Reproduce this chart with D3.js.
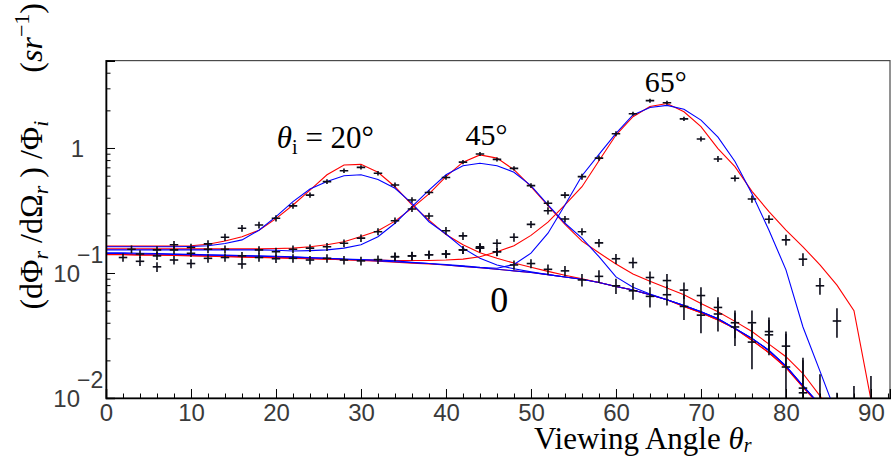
<!DOCTYPE html>
<html><head><meta charset="utf-8">
<script src="https://cdn.jsdelivr.net/npm/d3@7/dist/d3.min.js"></script>
<style>html,body{margin:0;padding:0;background:#fff;}svg{display:block;}</style>
</head><body>
<svg id="chart" width="891" height="456"></svg>
<script>
// ---------------- data ----------------
const curveAngles = [0,2,4,6,8,10,12,14,16,18,20,22,24,26,28,30,32,34,36,38,40,42,44,46,48,50,52,54,56,58,60,62,64,66,68,70,72,74,76,78,80,82,84,86,88,90];

const red0  = [0.141,0.141,0.140,0.140,0.139,0.138,0.137,0.136,0.135,0.134, 0.133,0.132,0.131,0.129,0.128,0.126,0.124,0.122,0.120,0.118, 0.116,0.113,0.110,0.107,0.104,0.101,0.097,0.093,0.089,0.084, 0.078,0.073,0.067,0.061,0.054,0.048,0.042,0.036,0.029,0.023, 0.0175,0.0122,0.0087,0.006,0.004,0.0025];
const blue0 = [0.145,0.145,0.144,0.143,0.142,0.141,0.140,0.139,0.138,0.137, 0.136,0.135,0.133,0.131,0.129,0.127,0.125,0.123,0.121,0.119, 0.116,0.113,0.110,0.107,0.104,0.101,0.097,0.093,0.089,0.084, 0.078,0.073,0.067,0.061,0.055,0.049,0.043,0.036,0.030,0.024, 0.018,0.0125,0.0088,0.006,0.004,0.0025];
const red20 = [0.164,0.164,0.164,0.164,0.164,0.165,0.170,0.180,0.195,0.220, 0.272,0.350,0.460,0.610,0.730,0.740,0.640,0.490,0.350,0.265, 0.203,0.168,0.145,0.131,0.120,0.111,0.103,0.096,0.090,0.084, 0.078,0.073,0.067,0.061,0.054,0.048,0.042,0.036,0.029,0.023, 0.0175,0.0122,0.0087,0.006,0.004,0.0025];
const blue20= [0.162,0.162,0.162,0.162,0.162,0.163,0.165,0.172,0.184,0.220, 0.282,0.372,0.470,0.540,0.600,0.610,0.560,0.476,0.360,0.257, 0.205,0.158,0.131,0.116,0.108,0.102,0.097,0.093,0.089,0.084, 0.078,0.073,0.067,0.061,0.055,0.049,0.043,0.036,0.030,0.024, 0.018,0.0125,0.0088,0.006,0.004,0.0025];
const red45 = [0.156,0.156,0.156,0.156,0.156,0.156,0.156,0.156,0.156,0.156, 0.157,0.158,0.162,0.168,0.178,0.196,0.218,0.260,0.330,0.430, 0.590,0.770,0.880,0.830,0.670,0.490,0.345,0.245,0.180,0.145, 0.118,0.098,0.086,0.076,0.067,0.057,0.049,0.041,0.034,0.027, 0.0214,0.0157,0.0104,0.0067,0.004,0.0025];
const blue45= [0.153,0.153,0.153,0.153,0.153,0.153,0.153,0.153,0.153,0.153, 0.152,0.150,0.151,0.153,0.158,0.168,0.195,0.250,0.340,0.460, 0.610,0.720,0.755,0.720,0.640,0.500,0.350,0.250,0.190,0.135, 0.093,0.077,0.068,0.061,0.055,0.049,0.043,0.036,0.030,0.024, 0.018,0.0125,0.0088,0.006,0.004,0.0025];
const red65 = [0.140,0.140,0.139,0.139,0.138,0.137,0.136,0.135,0.134,0.133, 0.132,0.131,0.130,0.129,0.128,0.127,0.127,0.126,0.126,0.126, 0.127,0.129,0.135,0.148,0.165,0.200,0.255,0.350,0.490,0.790, 1.270,1.780,2.150,2.270,1.950,1.480,0.990,0.710,0.450,0.310, 0.220,0.162,0.116,0.080,0.050,0.0097];
const blue65= [0.143,0.143,0.142,0.142,0.141,0.140,0.139,0.138,0.137,0.136, 0.135,0.134,0.132,0.131,0.129,0.128,0.127,0.125,0.122,0.119, 0.117,0.114,0.111,0.109,0.117,0.144,0.208,0.350,0.600,0.890, 1.310,1.840,2.110,2.190,2.040,1.670,1.220,0.780,0.430,0.220, 0.106,0.037,0.0164,0.0072,0.003,0.0015];

// measured points (theta_r, flux, vertical error)
const angles0 = [2,4,6,8,10,12,14,16,18,20,22,24,26,28,30,32,34,36,38,40,42,44,46,48,50,52,54,56,58,60,62,64,66,68,70,72,74,76,78,80,82,84,86];
const flux0   = [0.133,0.124,0.112,0.127,0.119,0.131,0.133,0.118,0.133,0.130,0.131,0.127,0.131,0.127,0.125,0.128,0.135,0.137,0.140,0.142,0.153,0.158,0.148,0.116,0.119,0.107,0.104,0.088,0.094,0.079,0.072,0.065,0.067,0.054,0.046,0.047,0.037,0.028,0.032,0.0177,0.011,0.006,0.005];
const err0    = [0.010,0.010,0.010,0.010,0.010,0.010,0.010,0.010,0.010,0.010,0.010,0.010,0.010,0.010,0.010,0.010,0.010,0.010,0.010,0.010,0.011,0.011,0.011,0.010,0.010,0.010,0.010,0.010,0.011,0.011,0.011,0.012,0.012,0.012,0.013,0.013,0.011,0.011,0.010,0.015,0.009,0.0095,0.006];

const angles20 = [3,6,8,10,12,14,16,18,20,22,24,26,28,30,32,34,36,38,40,42,44,46];
const flux20   = [0.155,0.153,0.168,0.160,0.171,0.193,0.228,0.242,0.274,0.344,0.420,0.538,0.658,0.700,0.627,0.506,0.384,0.286,0.218,0.198,0.162,0.148];
const err20    = [0.011,0.011,0.012,0.011,0.012,0.013,0.014,0.015,0.016,0.018,0.020,0.024,0.026,0.028,0.026,0.024,0.020,0.017,0.015,0.014,0.012,0.012];

const angles45 = [4,6,8,10,12,14,16,18,20,22,24,26,28,30,32,34,36,38,40,42,44,46,48,50,52,54,56,58,60,62,64,66,68,70,72,74,76,78,80,82];
const flux45   = [0.142,0.137,0.153,0.144,0.155,0.155,0.137,0.153,0.148,0.155,0.158,0.162,0.173,0.190,0.214,0.262,0.325,0.440,0.580,0.770,0.895,0.810,0.687,0.500,0.361,0.270,0.214,0.174,0.130,0.121,0.092,0.087,0.073,0.066,0.053,0.040,0.040,0.034,0.026,0.012];
const err45    = [0.010,0.010,0.011,0.010,0.011,0.011,0.010,0.011,0.011,0.011,0.011,0.012,0.012,0.013,0.014,0.016,0.018,0.020,0.024,0.030,0.033,0.030,0.028,0.022,0.019,0.016,0.014,0.013,0.012,0.012,0.011,0.011,0.011,0.011,0.011,0.010,0.010,0.010,0.008,0.009];

const angles65 = [34,36,38,40,42,44,46,48,50,52,54,56,58,60,62,64,66,68,70,72,74,76,78,80,82,84,86,88,90];
const flux65   = [0.135,0.137,0.140,0.142,0.153,0.158,0.173,0.193,0.245,0.315,0.420,0.590,0.830,1.300,1.880,2.390,2.300,1.710,1.180,0.817,0.572,0.391,0.269,0.184,0.129,0.079,0.0413,0.005,0.006];
const err65    = [0.011,0.011,0.011,0.011,0.011,0.012,0.013,0.015,0.016,0.021,0.024,0.033,0.040,0.060,0.070,0.090,0.085,0.065,0.055,0.045,0.032,0.026,0.020,0.018,0.015,0.012,0.011,0.0075,0.009];

const xMajorTicks = [0,10,20,30,40,50,60,70,80,90];
const xMinorTicks = [2,4,6,8,12,14,16,18,22,24,26,28,32,34,36,38,42,44,46,48,52,54,56,58,62,64,66,68,72,74,76,78,82,84,86,88,92];
const yMajorTicks = [0.01,0.1,1];
const yMinorTicks = [0.02,0.03,0.04,0.05,0.06,0.07,0.08,0.09,0.2,0.3,0.4,0.5,0.6,0.7,0.8,0.9,2,3,4,5];
const yTickLabels = [{v:0.01, base:"10", exp:"\u22122"},{v:0.1, base:"10", exp:"\u22121"},{v:1, base:"1", exp:""}];

const curveLabels = [
  {text:"45\u00B0", theta:42.3, flux:1.06, size:30},
  {text:"65\u00B0", theta:63.4, flux:2.78, size:30},
  {text:"0", theta:45.2, flux:0.0485, size:36}
];

// ---------------- drawing ----------------
const svg = d3.select("#chart");
const L = 106, R = 890, T = 60.6, B = 398;
const x = d3.scaleLinear().domain([0, 92.24]).range([L, R]);
const y = d3.scaleLog().domain([0.01, 5]).range([B, T]);

svg.append("rect").attr("width",891).attr("height",456).attr("fill","#fff");

const defs = svg.append("defs");
defs.append("clipPath").attr("id","clip").append("rect")
  .attr("x",L).attr("y",T).attr("width",R-L).attr("height",B-T);

// frame
svg.append("rect").attr("x",L).attr("y",T).attr("width",R-L).attr("height",B-T)
  .attr("fill","none").attr("stroke","#4a4a4a").attr("stroke-width",1.2);

const plot = svg.append("g").attr("clip-path","url(#clip)");

// curves
const line = d3.line().x(d=>x(d[0])).y(d=>y(d[1]));
const curves = [
  [red0,"#ff0000"],[blue0,"#0000ff"],
  [red20,"#ff0000"],[blue20,"#0000ff"],
  [red45,"#ff0000"],[blue45,"#0000ff"],
  [red65,"#ff0000"],[blue65,"#0000ff"]
];
curves.forEach(([vals,col])=>{
  plot.append("path").datum(curveAngles.map((a,i)=>[a,vals[i]]))
    .attr("d",line).attr("fill","none").attr("stroke",col).attr("stroke-width",1.1);
});

// data points (crosses with error bars)
const sets = [[angles0,flux0,err0],[angles20,flux20,err20],[angles45,flux45,err45],[angles65,flux65,err65]];
const xErr = 0.5;
sets.forEach(([a,f,e])=>{
  const pts = a.map((t,i)=>({t, v:f[i], e:e[i]}));
  const g = plot.append("g").attr("stroke","#0d0d1a").attr("stroke-width",1.6);
  g.selectAll("line.h").data(pts).join("line").attr("class","h")
    .attr("x1",d=>x(d.t-xErr)).attr("x2",d=>x(d.t+xErr))
    .attr("y1",d=>y(d.v)).attr("y2",d=>y(d.v));
  g.selectAll("line.v").data(pts).join("line").attr("class","v")
    .attr("x1",d=>x(d.t)).attr("x2",d=>x(d.t))
    .attr("y1",d=>y(d.v+d.e)).attr("y2",d=>y(Math.max(d.v-d.e,1e-4)));
});

// axes
const axisFont = "'Liberation Sans', Arial, sans-serif";
const gx = svg.append("g").attr("transform",`translate(0,${B})`)
  .call(d3.axisBottom(x).tickValues(xMajorTicks).tickSize(-9).tickPadding(6).tickFormat(d3.format("d")));
svg.append("g").attr("transform",`translate(0,${B})`)
  .call(d3.axisBottom(x).tickValues(xMinorTicks).tickSize(-4.5).tickFormat(""))
  .call(g=>g.select(".domain").remove());
gx.selectAll("text").attr("font-family",axisFont).attr("font-size",24).attr("fill","#3a3a3a");
gx.select(".domain").attr("stroke","#000").attr("stroke-width",1.6);

const gy = svg.append("g").attr("transform",`translate(${L},0)`)
  .call(d3.axisLeft(y).tickValues(yMajorTicks).tickSize(-9).tickFormat(""));
svg.append("g").attr("transform",`translate(${L},0)`)
  .call(d3.axisLeft(y).tickValues(yMinorTicks).tickSize(-4.5).tickFormat(""))
  .call(g=>g.select(".domain").remove());
gy.select(".domain").attr("stroke","#000").attr("stroke-width",1.6);
svg.selectAll(".tick line").attr("stroke","#000").attr("stroke-width",1);

// y tick labels (10^n style)
yTickLabels.forEach(d=>{
  const yy = y(d.v);
  if (d.exp) {
    svg.append("text").attr("x",80).attr("y",yy+9).attr("text-anchor","end")
      .attr("font-family",axisFont).attr("font-size",24).attr("fill","#3a3a3a").text(d.base);
    svg.append("text").attr("x",77).attr("y",yy-10).attr("text-anchor","start")
      .attr("font-family",axisFont).attr("font-size",23).attr("fill","#3a3a3a").text(d.exp);
  } else {
    svg.append("text").attr("x",84).attr("y",yy+9).attr("text-anchor","end")
      .attr("font-family",axisFont).attr("font-size",24).attr("fill","#3a3a3a").text(d.base);
  }
});

const serif = "'Liberation Serif', 'Times New Roman', serif";
// curve labels
const lab20 = svg.append("text").attr("x",x(20.1)).attr("y",y(0.991)).attr("font-family",serif).attr("font-size",31).attr("fill","#000");
lab20.append("tspan").attr("font-style","italic").text("\u03B8");
lab20.append("tspan").attr("font-size",20).attr("dy",6).text("i");
lab20.append("tspan").attr("dy",-6).text(" = 20\u00B0");
curveLabels.forEach(c=>{
  svg.append("text").attr("x",x(c.theta)).attr("y",y(c.flux)).attr("font-family",serif)
    .attr("font-size",c.size).attr("fill","#000").text(c.text);
});

// x title
const xt = svg.append("text").attr("x",534).attr("y",449).attr("font-family",serif).attr("font-size",31).attr("fill","#000");
xt.append("tspan").text("Viewing Angle ");
xt.append("tspan").attr("font-style","italic").text("\u03B8");
xt.append("tspan").attr("font-style","italic").attr("font-size",20).attr("dy",3).text("r");

// y title (rotated)
const yt = svg.append("text").attr("transform","translate(42,3) rotate(-90)").attr("text-anchor","end")
  .attr("font-family",serif).attr("font-size",32).attr("fill","#000");
yt.append("tspan").text("(d\u03A6");
yt.append("tspan").attr("font-style","italic").attr("font-size",22).attr("dy",6).text("r");
yt.append("tspan").attr("dy",-6).text(" /d\u03A9");
yt.append("tspan").attr("font-style","italic").attr("font-size",22).attr("dy",6).text("r");
yt.append("tspan").attr("dy",-6).text(" ) /\u03A6");
yt.append("tspan").attr("font-style","italic").attr("font-size",22).attr("dy",6).text("i");
yt.append("tspan").attr("dy",-6).text("\u2002\u2002\u2002(");
yt.append("tspan").attr("font-style","italic").text("sr");
yt.append("tspan").attr("font-size",22).attr("dy",-13).text("\u22121");
yt.append("tspan").attr("dy",13).text(")");
</script>
</body></html>
